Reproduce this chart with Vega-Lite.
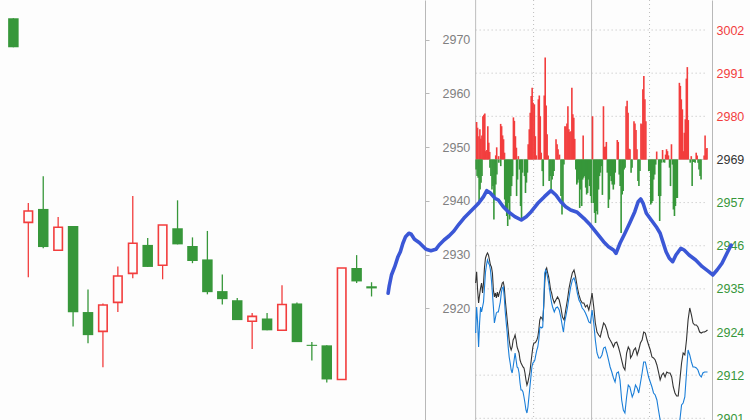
{
"$schema": "https://vega.github.io/schema/vega-lite/v6.json",
"width": 750, "height": 420, "padding": 0, "autosize": {"type": "none"},
"background": "#fdfdfd",
"config": {"view": {"stroke": null}, "axis": {"labelFont": "Liberation Sans", "labelFontSize": 12}},
"datasets": {
"candles": [
{"i":0,"o":2974.0,"h":2974.0,"l":2968.6,"c":2968.6},
{"i":1,"o":2936.0,"h":2939.6,"l":2925.8,"c":2938.1},
{"i":2,"o":2938.5,"h":2944.6,"l":2931.2,"c":2931.4},
{"i":3,"o":2930.8,"h":2937.0,"l":2930.8,"c":2935.1},
{"i":4,"o":2935.3,"h":2935.3,"l":2916.6,"c":2919.25},
{"i":5,"o":2919.3,"h":2923.5,"l":2913.5,"c":2915.0},
{"i":6,"o":2915.7,"h":2920.9,"l":2909.0,"c":2920.6},
{"i":7,"o":2921.1,"h":2927.8,"l":2919.3,"c":2926.0},
{"i":8,"o":2926.5,"h":2940.9,"l":2925.6,"c":2932.1},
{"i":9,"o":2931.8,"h":2933.1,"l":2927.7,"c":2927.7},
{"i":10,"o":2928.0,"h":2935.5,"l":2925.4,"c":2935.5},
{"i":11,"o":2934.9,"h":2940.1,"l":2931.9,"c":2931.9},
{"i":12,"o":2931.6,"h":2933.2,"l":2928.4,"c":2928.8},
{"i":13,"o":2929.1,"h":2934.4,"l":2922.6,"c":2923.0},
{"i":14,"o":2923.2,"h":2926.3,"l":2920.7,"c":2921.7},
{"i":15,"o":2921.5,"h":2921.9,"l":2917.8,"c":2917.8},
{"i":16,"o":2917.6,"h":2919.1,"l":2912.4,"c":2918.5},
{"i":17,"o":2918.1,"h":2919.1,"l":2915.9,"c":2915.9},
{"i":18,"o":2915.9,"h":2924.3,"l":2915.9,"c":2920.7},
{"i":19,"o":2920.9,"h":2921.1,"l":2913.7,"c":2913.7},
{"i":20,"o":2913.2,"h":2913.7,"l":2910.3,"c":2913.0},
{"i":21,"o":2913.1,"h":2913.1,"l":2906.2,"c":2906.75},
{"i":22,"o":2906.75,"h":2927.5,"l":2906.75,"c":2927.5},
{"i":23,"o":2927.5,"h":2929.9,"l":2924.7,"c":2925.0},
{"i":24,"o":2924.1,"h":2924.85,"l":2922.2,"c":2923.7}
],
"bars": [
{"t":1.0,"v":2978.4},{"t":2.0,"v":2976.9},{"t":3.4,"v":2974.7},{"t":4.4,"v":2976.5},{"t":5.4,"v":2974.0},{"t":6.5,"v":2974.9},{"t":7.5,"v":2979.9},{"t":8.5,"v":2980.3},{"t":9.5,"v":2980.6},{"t":10.5,"v":2970.8},{"t":11.6,"v":2971.1},{"t":12.6,"v":2977.3},{"t":13.6,"v":2973.0},{"t":14.6,"v":2970.6},{"t":20.8,"v":2969.7},{"t":21.8,"v":2971.8},{"t":23.8,"v":2969.5},{"t":25.9,"v":2977.9},{"t":26.9,"v":2977.3},{"t":27.9,"v":2974.9},{"t":28.9,"v":2973.9},{"t":29.9,"v":2970.4},{"t":39.1,"v":2979.6},{"t":40.1,"v":2978.7},{"t":41.2,"v":2974.7},{"t":42.2,"v":2971.7},{"t":44.2,"v":2969.5},{"t":54.4,"v":2972.6},{"t":55.5,"v":2976.5},{"t":56.5,"v":2980.8},{"t":57.5,"v":2985.2},{"t":58.5,"v":2987.3},{"t":59.5,"v":2983.4},{"t":60.8,"v":2983.0},{"t":61.8,"v":2974.7},{"t":62.8,"v":2969.7},{"t":64.9,"v":2984.3},{"t":65.9,"v":2985.3},{"t":66.9,"v":2979.9},{"t":67.9,"v":2970.4},{"t":71.0,"v":2985.3},{"t":72.0,"v":2995.2},{"t":73.0,"v":2982.7},{"t":74.0,"v":2975.2},{"t":75.1,"v":2969.7},{"t":83.2,"v":2973.9},{"t":84.3,"v":2972.6},{"t":85.3,"v":2971.3},{"t":86.8,"v":2969.9},{"t":92.4,"v":2977.3},{"t":93.4,"v":2977.2},{"t":94.5,"v":2978.0},{"t":95.5,"v":2982.5},{"t":96.5,"v":2976.5},{"t":97.5,"v":2975.8},{"t":98.6,"v":2976.0},{"t":99.6,"v":2987.3},{"t":100.6,"v":2980.4},{"t":101.6,"v":2979.5},{"t":102.6,"v":2974.0},{"t":111.3,"v":2974.9},{"t":121.0,"v":2979.9},{"t":132.3,"v":2982.5},{"t":133.3,"v":2971.9},{"t":134.3,"v":2972.0},{"t":135.3,"v":2973.2},{"t":146.6,"v":2973.7},{"t":147.6,"v":2973.2},{"t":155.7,"v":2982.5},{"t":156.8,"v":2983.9},{"t":157.8,"v":2980.8},{"t":158.8,"v":2971.4},{"t":159.8,"v":2971.3},{"t":163.9,"v":2978.6},{"t":164.9,"v":2978.0},{"t":166.0,"v":2976.3},{"t":167.0,"v":2971.3},{"t":171.1,"v":2978.0},{"t":172.1,"v":2977.8},{"t":173.1,"v":2986.9},{"t":174.1,"v":2990.4},{"t":175.2,"v":2984.3},{"t":176.2,"v":2978.6},{"t":187.4,"v":2970.7},{"t":193.5,"v":2971.1},{"t":196.6,"v":2969.9},{"t":197.6,"v":2971.3},{"t":198.6,"v":2970.8},{"t":199.6,"v":2969.7},{"t":202.7,"v":2972.6},{"t":210.9,"v":2988.6},{"t":211.9,"v":2987.8},{"t":212.9,"v":2984.3},{"t":214.0,"v":2981.7},{"t":215.0,"v":2970.8},{"t":216.0,"v":2975.6},{"t":217.0,"v":2979.1},{"t":218.1,"v":2989.7},{"t":219.1,"v":2992.7},{"t":220.1,"v":2978.9},{"t":223.2,"v":2969.5},{"t":228.3,"v":2970.4},{"t":229.3,"v":2969.7},{"t":236.5,"v":2969.7},{"t":237.5,"v":2974.9},{"t":238.5,"v":2971.4},{"t":239.5,"v":2971.6},
{"t":0.5,"v":2966.0},{"t":1.5,"v":2964.3},{"t":2.6,"v":2963.9},{"t":3.6,"v":2957.8},{"t":4.6,"v":2960.8},{"t":5.6,"v":2962.6},{"t":6.6,"v":2964.3},{"t":14.8,"v":2966.5},{"t":15.8,"v":2964.3},{"t":16.9,"v":2960.8},{"t":17.9,"v":2961.7},{"t":18.9,"v":2953.0},{"t":19.9,"v":2959.1},{"t":20.9,"v":2962.1},{"t":22.0,"v":2964.7},{"t":24.0,"v":2967.8},{"t":26.0,"v":2966.9},{"t":30.1,"v":2958.2},{"t":31.1,"v":2955.6},{"t":32.2,"v":2953.9},{"t":33.2,"v":2951.3},{"t":34.2,"v":2957.3},{"t":35.2,"v":2953.0},{"t":36.3,"v":2959.1},{"t":37.3,"v":2961.7},{"t":38.3,"v":2964.3},{"t":42.4,"v":2959.1},{"t":43.4,"v":2963.4},{"t":45.4,"v":2966.0},{"t":46.5,"v":2956.5},{"t":47.5,"v":2953.0},{"t":48.5,"v":2965.2},{"t":50.6,"v":2964.3},{"t":51.6,"v":2959.9},{"t":52.6,"v":2962.6},{"t":53.6,"v":2965.2},{"t":68.9,"v":2965.6},{"t":70.0,"v":2961.7},{"t":76.1,"v":2963.0},{"t":77.1,"v":2964.3},{"t":78.1,"v":2960.8},{"t":79.2,"v":2963.4},{"t":80.2,"v":2964.3},{"t":81.2,"v":2965.6},{"t":88.3,"v":2959.1},{"t":89.4,"v":2954.3},{"t":90.4,"v":2956.5},{"t":91.4,"v":2967.3},{"t":103.7,"v":2966.0},{"t":104.7,"v":2962.1},{"t":105.7,"v":2962.6},{"t":106.7,"v":2963.4},{"t":107.7,"v":2956.0},{"t":108.8,"v":2960.8},{"t":109.8,"v":2956.5},{"t":110.8,"v":2963.4},{"t":111.8,"v":2963.9},{"t":112.9,"v":2964.3},{"t":113.9,"v":2961.3},{"t":114.9,"v":2959.5},{"t":115.9,"v":2959.9},{"t":116.9,"v":2963.4},{"t":117.9,"v":2961.7},{"t":119.0,"v":2959.1},{"t":120.0,"v":2957.3},{"t":122.0,"v":2957.3},{"t":123.1,"v":2954.7},{"t":124.1,"v":2952.1},{"t":125.1,"v":2955.2},{"t":126.1,"v":2954.3},{"t":127.2,"v":2960.8},{"t":128.2,"v":2964.3},{"t":129.2,"v":2965.2},{"t":130.2,"v":2966.9},{"t":131.2,"v":2959.4},{"t":136.3,"v":2965.2},{"t":137.4,"v":2956.0},{"t":138.4,"v":2958.2},{"t":139.4,"v":2964.3},{"t":140.4,"v":2963.0},{"t":141.4,"v":2962.1},{"t":142.5,"v":2960.8},{"t":143.5,"v":2962.1},{"t":144.5,"v":2965.2},{"t":148.6,"v":2964.7},{"t":149.6,"v":2961.7},{"t":150.6,"v":2949.5},{"t":151.7,"v":2959.5},{"t":152.7,"v":2960.4},{"t":153.7,"v":2966.0},{"t":154.7,"v":2966.5},{"t":160.9,"v":2965.2},{"t":161.9,"v":2966.5},{"t":168.0,"v":2963.0},{"t":169.0,"v":2961.7},{"t":170.1,"v":2965.6},{"t":179.2,"v":2965.6},{"t":180.3,"v":2965.6},{"t":181.3,"v":2956.9},{"t":182.3,"v":2957.3},{"t":183.3,"v":2957.8},{"t":184.3,"v":2963.4},{"t":185.4,"v":2964.7},{"t":186.4,"v":2967.3},{"t":189.5,"v":2959.1},{"t":190.5,"v":2952.6},{"t":191.5,"v":2959.1},{"t":192.5,"v":2967.8},{"t":194.6,"v":2967.9},{"t":195.6,"v":2967.8},{"t":200.7,"v":2966.5},{"t":201.7,"v":2961.7},{"t":203.7,"v":2967.3},{"t":204.7,"v":2955.6},{"t":205.8,"v":2953.9},{"t":206.8,"v":2956.5},{"t":207.8,"v":2958.6},{"t":208.8,"v":2958.6},{"t":222.1,"v":2967.8},{"t":224.1,"v":2961.7},{"t":225.1,"v":2968.0},{"t":226.2,"v":2968.0},{"t":227.2,"v":2967.8},{"t":230.2,"v":2967.8},{"t":231.2,"v":2966.0},{"t":232.3,"v":2964.3},{"t":233.3,"v":2963.4}
],
"price": [
{"t":0,"v":2936.45},{"t":1.02,"v":2939.4},{"t":2.04,"v":2934.63},{"t":3.06,"v":2931.24},{"t":4.09,"v":2933.33},{"t":5.11,"v":2935.15},{"t":6.13,"v":2936.45},{"t":7.15,"v":2933.85},{"t":8.17,"v":2936.45},{"t":9.19,"v":2940.62},{"t":10.21,"v":2942.97},{"t":11.23,"v":2943.75},{"t":12.26,"v":2944.27},{"t":13.28,"v":2943.75},{"t":14.3,"v":2942.45},{"t":15.32,"v":2941.14},{"t":16.34,"v":2940.62},{"t":17.36,"v":2939.06},{"t":18.38,"v":2934.63},{"t":19.4,"v":2932.81},{"t":20.43,"v":2933.85},{"t":21.45,"v":2932.55},{"t":22.47,"v":2934.11},{"t":23.49,"v":2932.81},{"t":24.51,"v":2933.85},{"t":25.53,"v":2934.63},{"t":26.55,"v":2935.41},{"t":27.58,"v":2936.45},{"t":28.6,"v":2936.71},{"t":29.62,"v":2935.41},{"t":30.64,"v":2932.02},{"t":31.66,"v":2929.42},{"t":32.68,"v":2926.81},{"t":33.7,"v":2924.21},{"t":34.72,"v":2921.6},{"t":35.75,"v":2919.78},{"t":36.77,"v":2918.99},{"t":37.79,"v":2919.78},{"t":38.81,"v":2921.6},{"t":39.83,"v":2922.12},{"t":40.85,"v":2922.91},{"t":41.87,"v":2921.6},{"t":42.89,"v":2919.78},{"t":43.92,"v":2918.99},{"t":44.94,"v":2918.22},{"t":45.96,"v":2916.39},{"t":46.98,"v":2915.61},{"t":48.0,"v":2915.09},{"t":49.02,"v":2914.57},{"t":50.04,"v":2914.31},{"t":51.07,"v":2913.01},{"t":52.09,"v":2911.18},{"t":53.11,"v":2909.88},{"t":54.13,"v":2910.66},{"t":55.15,"v":2911.96},{"t":56.17,"v":2913.27},{"t":57.19,"v":2915.61},{"t":58.21,"v":2917.7},{"t":59.24,"v":2919.78},{"t":60.26,"v":2920.82},{"t":61.28,"v":2920.82},{"t":62.3,"v":2921.08},{"t":63.32,"v":2921.6},{"t":64.34,"v":2922.39},{"t":65.36,"v":2924.21},{"t":66.38,"v":2926.81},{"t":67.41,"v":2927.6},{"t":68.43,"v":2927.33},{"t":69.45,"v":2926.81},{"t":70.47,"v":2930.2},{"t":71.49,"v":2936.45},{"t":72.51,"v":2939.84},{"t":73.53,"v":2940.36},{"t":74.55,"v":2939.06},{"t":75.58,"v":2938.02},{"t":76.6,"v":2936.45},{"t":77.62,"v":2934.63},{"t":78.64,"v":2933.85},{"t":79.66,"v":2932.55},{"t":81.4,"v":2931.24},{"t":83.03,"v":2932.02},{"t":84.77,"v":2932.81},{"t":86.5,"v":2932.02},{"t":88.14,"v":2930.2},{"t":89.87,"v":2927.6},{"t":91.61,"v":2926.81},{"t":93.24,"v":2929.42},{"t":94.98,"v":2932.02},{"t":96.72,"v":2935.15},{"t":98.35,"v":2937.23},{"t":100.09,"v":2939.06},{"t":101.82,"v":2939.84},{"t":103.46,"v":2938.02},{"t":105.19,"v":2935.41},{"t":106.93,"v":2933.33},{"t":108.56,"v":2932.02},{"t":110.3,"v":2931.24},{"t":112.04,"v":2931.24},{"t":113.67,"v":2930.2},{"t":115.41,"v":2930.72},{"t":117.14,"v":2929.42},{"t":118.78,"v":2931.24},{"t":120.51,"v":2933.85},{"t":122.25,"v":2930.2},{"t":123.88,"v":2926.03},{"t":125.62,"v":2923.68},{"t":127.36,"v":2922.91},{"t":128.99,"v":2922.39},{"t":130.73,"v":2924.21},{"t":132.46,"v":2926.03},{"t":134.1,"v":2925.51},{"t":135.83,"v":2924.21},{"t":137.57,"v":2922.39},{"t":139.2,"v":2921.6},{"t":140.94,"v":2920.82},{"t":142.68,"v":2919.78},{"t":144.31,"v":2920.82},{"t":146.05,"v":2921.08},{"t":147.78,"v":2919.78},{"t":149.42,"v":2918.22},{"t":151.15,"v":2916.39},{"t":152.89,"v":2914.57},{"t":154.52,"v":2913.79},{"t":156.26,"v":2918.22},{"t":157.99,"v":2919.78},{"t":159.63,"v":2918.99},{"t":160.34,"v":2916.91},{"t":162.08,"v":2917.7},{"t":163.71,"v":2918.99},{"t":165.45,"v":2919.52},{"t":167.19,"v":2917.7},{"t":168.82,"v":2918.99},{"t":170.56,"v":2920.82},{"t":172.29,"v":2921.6},{"t":173.93,"v":2923.68},{"t":175.66,"v":2923.42},{"t":177.4,"v":2921.6},{"t":179.03,"v":2920.3},{"t":180.77,"v":2918.99},{"t":182.51,"v":2917.17},{"t":184.14,"v":2916.91},{"t":185.88,"v":2916.39},{"t":187.61,"v":2915.09},{"t":189.25,"v":2913.27},{"t":190.98,"v":2911.18},{"t":192.72,"v":2912.48},{"t":194.35,"v":2913.01},{"t":196.09,"v":2911.96},{"t":197.83,"v":2913.27},{"t":199.46,"v":2913.01},{"t":201.2,"v":2913.01},{"t":202.93,"v":2911.96},{"t":204.57,"v":2909.36},{"t":206.3,"v":2907.8},{"t":208.04,"v":2907.01},{"t":209.67,"v":2907.01},{"t":211.41,"v":2911.18},{"t":213.15,"v":2915.61},{"t":214.78,"v":2918.22},{"t":216.52,"v":2917.7},{"t":218.25,"v":2921.6},{"t":219.89,"v":2926.81},{"t":221.62,"v":2929.94},{"t":223.36,"v":2928.12},{"t":224.99,"v":2926.03},{"t":226.73,"v":2925.51},{"t":228.47,"v":2925.51},{"t":230.1,"v":2924.99},{"t":231.84,"v":2923.68},{"t":233.57,"v":2923.42},{"t":235.21,"v":2923.68},{"t":236.94,"v":2923.68},{"t":238.68,"v":2923.95},{"t":240,"v":2924.21}
],
"avg": [
{"t":0,"v":2923.42},{"t":1.02,"v":2930.2},{"t":2.04,"v":2926.29},{"t":3.06,"v":2919.78},{"t":4.09,"v":2926.03},{"t":5.11,"v":2930.2},{"t":6.13,"v":2928.9},{"t":7.15,"v":2930.2},{"t":8.17,"v":2931.5},{"t":9.19,"v":2935.41},{"t":10.21,"v":2939.32},{"t":11.23,"v":2941.14},{"t":12.26,"v":2942.45},{"t":13.28,"v":2941.66},{"t":14.3,"v":2941.14},{"t":15.32,"v":2939.84},{"t":16.34,"v":2937.23},{"t":17.36,"v":2933.85},{"t":18.38,"v":2930.2},{"t":19.4,"v":2926.03},{"t":20.43,"v":2927.33},{"t":21.45,"v":2928.64},{"t":22.47,"v":2928.9},{"t":23.49,"v":2928.9},{"t":24.51,"v":2930.2},{"t":25.53,"v":2931.5},{"t":26.55,"v":2933.85},{"t":27.58,"v":2935.15},{"t":28.6,"v":2935.41},{"t":29.62,"v":2932.81},{"t":30.64,"v":2928.9},{"t":31.66,"v":2926.03},{"t":32.68,"v":2923.42},{"t":33.7,"v":2919.78},{"t":34.72,"v":2917.17},{"t":35.75,"v":2915.61},{"t":36.77,"v":2913.79},{"t":37.79,"v":2913.01},{"t":38.81,"v":2914.57},{"t":39.83,"v":2916.39},{"t":40.85,"v":2918.22},{"t":41.87,"v":2916.39},{"t":42.89,"v":2914.57},{"t":43.92,"v":2914.31},{"t":44.94,"v":2913.01},{"t":45.96,"v":2910.4},{"t":46.98,"v":2908.58},{"t":48.0,"v":2908.58},{"t":49.02,"v":2908.06},{"t":50.04,"v":2906.75},{"t":51.07,"v":2905.19},{"t":52.09,"v":2903.37},{"t":53.11,"v":2902.59},{"t":54.13,"v":2904.15},{"t":55.15,"v":2906.75},{"t":56.17,"v":2909.36},{"t":57.19,"v":2911.96},{"t":58.21,"v":2914.57},{"t":59.24,"v":2915.61},{"t":60.26,"v":2915.87},{"t":61.28,"v":2916.39},{"t":62.3,"v":2917.7},{"t":63.32,"v":2918.99},{"t":64.34,"v":2919.78},{"t":65.36,"v":2921.6},{"t":66.38,"v":2924.73},{"t":67.41,"v":2924.99},{"t":68.43,"v":2924.73},{"t":69.45,"v":2924.99},{"t":70.47,"v":2931.24},{"t":71.49,"v":2939.06},{"t":72.51,"v":2939.84},{"t":73.53,"v":2939.06},{"t":74.55,"v":2937.76},{"t":75.58,"v":2936.45},{"t":76.6,"v":2934.63},{"t":77.62,"v":2932.81},{"t":78.64,"v":2931.24},{"t":79.66,"v":2930.2},{"t":81.4,"v":2928.9},{"t":83.03,"v":2929.94},{"t":84.77,"v":2930.2},{"t":86.5,"v":2929.42},{"t":88.14,"v":2927.6},{"t":89.87,"v":2924.99},{"t":90.89,"v":2923.68},{"t":91.91,"v":2926.03},{"t":93.24,"v":2927.6},{"t":94.98,"v":2929.94},{"t":96.72,"v":2932.81},{"t":98.35,"v":2935.41},{"t":100.09,"v":2937.23},{"t":101.82,"v":2937.76},{"t":103.46,"v":2936.45},{"t":105.19,"v":2933.85},{"t":106.93,"v":2932.02},{"t":108.56,"v":2931.24},{"t":110.3,"v":2929.94},{"t":112.04,"v":2929.42},{"t":113.67,"v":2928.64},{"t":115.41,"v":2927.6},{"t":117.14,"v":2926.29},{"t":118.78,"v":2926.03},{"t":120.51,"v":2929.42},{"t":122.25,"v":2926.03},{"t":123.88,"v":2921.6},{"t":125.62,"v":2918.22},{"t":127.36,"v":2916.91},{"t":128.99,"v":2916.91},{"t":130.73,"v":2917.7},{"t":132.46,"v":2919.52},{"t":134.1,"v":2919.78},{"t":135.83,"v":2918.22},{"t":137.57,"v":2916.39},{"t":139.2,"v":2914.57},{"t":140.94,"v":2913.27},{"t":142.68,"v":2911.7},{"t":144.31,"v":2910.66},{"t":146.05,"v":2913.01},{"t":147.78,"v":2913.27},{"t":149.42,"v":2911.18},{"t":151.15,"v":2905.97},{"t":152.89,"v":2903.37},{"t":154.52,"v":2902.59},{"t":156.26,"v":2906.75},{"t":157.99,"v":2909.88},{"t":159.63,"v":2909.36},{"t":160.34,"v":2908.58},{"t":162.08,"v":2906.75},{"t":163.71,"v":2907.8},{"t":165.45,"v":2909.88},{"t":167.19,"v":2909.1},{"t":168.82,"v":2907.8},{"t":170.56,"v":2910.4},{"t":172.29,"v":2913.01},{"t":173.93,"v":2915.87},{"t":175.66,"v":2915.87},{"t":177.4,"v":2913.79},{"t":179.03,"v":2911.96},{"t":180.77,"v":2910.66},{"t":182.51,"v":2909.36},{"t":184.14,"v":2907.8},{"t":185.88,"v":2907.27},{"t":187.61,"v":2905.97},{"t":189.25,"v":2903.37},{"t":190.98,"v":2900.76},{"t":192.72,"v":2898.94},{"t":194.35,"v":2897.63},{"t":197.11,"v":2896.59},{"t":201.2,"v":2896.07},{"t":205.28,"v":2897.11},{"t":208.35,"v":2898.68},{"t":211.41,"v":2900.76},{"t":213.15,"v":2904.67},{"t":214.78,"v":2905.19},{"t":216.52,"v":2906.75},{"t":218.25,"v":2913.01},{"t":219.89,"v":2918.99},{"t":221.62,"v":2917.7},{"t":223.36,"v":2915.87},{"t":224.99,"v":2914.57},{"t":226.73,"v":2914.57},{"t":228.47,"v":2914.31},{"t":230.1,"v":2913.79},{"t":231.84,"v":2912.48},{"t":233.57,"v":2911.96},{"t":235.21,"v":2913.01},{"t":236.94,"v":2913.27},{"t":238.68,"v":2913.27},{"t":240,"v":2913.27}
],
"thick": [
{"t":-90.59,"v":2933.77},{"t":-89.57,"v":2935.49},{"t":-87.12,"v":2938.54},{"t":-83.75,"v":2940.7},{"t":-80.38,"v":2943.31},{"t":-77.92,"v":2944.61},{"t":-75.27,"v":2946.8},{"t":-72.51,"v":2948.52},{"t":-69.14,"v":2949.41},{"t":-66.69,"v":2949.15},{"t":-63.32,"v":2947.84},{"t":-58.21,"v":2946.95},{"t":-54.84,"v":2946.09},{"t":-51.37,"v":2945.23},{"t":-46.27,"v":2944.87},{"t":-41.16,"v":2945.23},{"t":-37.79,"v":2946.35},{"t":-32.68,"v":2947.66},{"t":-27.58,"v":2948.7},{"t":-22.47,"v":2950.0},{"t":-17.36,"v":2951.75},{"t":-12.26,"v":2953.31},{"t":-7.15,"v":2954.61},{"t":-2.04,"v":2955.91},{"t":3.06,"v":2957.22},{"t":8.17,"v":2958.94},{"t":11.54,"v":2960.5},{"t":15.01,"v":2959.98},{"t":20.12,"v":2958.52},{"t":23.49,"v":2958.08},{"t":28.6,"v":2956.33},{"t":33.7,"v":2955.03},{"t":40.54,"v":2953.73},{"t":47.29,"v":2952.86},{"t":52.39,"v":2953.73},{"t":57.5,"v":2955.03},{"t":64.34,"v":2957.22},{"t":71.19,"v":2958.94},{"t":77.93,"v":2960.5},{"t":83.03,"v":2959.38},{"t":88.14,"v":2957.63},{"t":93.24,"v":2956.33},{"t":98.35,"v":2955.47},{"t":105.19,"v":2954.87},{"t":112.04,"v":2953.31},{"t":118.78,"v":2951.56},{"t":125.62,"v":2949.41},{"t":132.46,"v":2947.22},{"t":137.57,"v":2945.92},{"t":142.68,"v":2945.05},{"t":145.33,"v":2944.19},{"t":149.42,"v":2946.8},{"t":154.52,"v":2949.41},{"t":159.63,"v":2952.17},{"t":164.74,"v":2955.03},{"t":168.21,"v":2957.63},{"t":170.86,"v":2958.34},{"t":173.32,"v":2957.22},{"t":176.68,"v":2954.61},{"t":181.79,"v":2952.86},{"t":186.9,"v":2951.12},{"t":190.98,"v":2949.41},{"t":193.74,"v":2947.22},{"t":197.11,"v":2944.61},{"t":200.48,"v":2942.89},{"t":203.95,"v":2942.01},{"t":207.32,"v":2943.76},{"t":212.43,"v":2945.5},{"t":215.8,"v":2945.05},{"t":220.91,"v":2943.76},{"t":227.75,"v":2942.45},{"t":234.59,"v":2940.7},{"t":241.33,"v":2939.4},{"t":245.42,"v":2938.54},{"t":249.91,"v":2939.84},{"t":255.02,"v":2941.59},{"t":260.13,"v":2944.19},{"t":264.52,"v":2946.35}
],
"grid": [{"v":2901.2},{"v":2912.44},{"v":2923.68},{"v":2934.92},{"v":2946.16},{"v":2957.4},{"v":2979.88},{"v":2991.12},{"v":3002.36}],
"base": [{"v":2968.64}],
"vsolid": [{"t":0},{"t":120}],
"vdot": [{"t":60},{"t":180}]
},
"layer": [
{
"layer": [
{"data": {"name": "candles"}, "mark": {"type": "rule", "strokeWidth": 1.3},
 "encoding": {
  "x": {"field": "i", "type": "quantitative", "scale": {"domain": [-0.562, 49.025], "nice": false, "zero": false}, "axis": null},
  "y": {"field": "l", "type": "quantitative", "scale": {"domain": [2899.2, 2977.4], "nice": false, "zero": false},
        "axis": {"orient": "right", "offset": -325, "values": [2920, 2930, 2940, 2950, 2960, 2970], "format": "d", "title": null, "grid": false, "domainColor": "#b8b8b8", "tickColor": "#b8b8b8", "tickSize": 4, "labelColor": "#808080", "labelPadding": 13, "labelFont": "Liberation Sans", "labelFontSize": 12.5, "labelOverlap": false}},
  "y2": {"field": "h"},
  "color": {"condition": {"test": "datum.c > datum.o", "value": "#f23d3d"}, "value": "#37973a"}
 }},
{"data": {"name": "candles"}, "transform": [{"filter": "datum.c <= datum.o"}],
 "mark": {"type": "bar", "size": 10.5, "color": "#37973a"},
 "encoding": {
  "x": {"field": "i", "type": "quantitative", "scale": {"domain": [-0.562, 49.025], "nice": false, "zero": false}, "axis": null},
  "y": {"field": "o", "type": "quantitative", "scale": {"domain": [2899.2, 2977.4], "nice": false, "zero": false},
        "axis": {"orient": "right", "offset": -325, "values": [2920, 2930, 2940, 2950, 2960, 2970], "format": "d", "title": null, "grid": false, "domainColor": "#b8b8b8", "tickColor": "#b8b8b8", "tickSize": 4, "labelColor": "#808080", "labelPadding": 13, "labelFont": "Liberation Sans", "labelFontSize": 12.5, "labelOverlap": false}},
  "y2": {"field": "c"}
 }},
{"data": {"name": "candles"}, "transform": [{"filter": "datum.c > datum.o"}],
 "mark": {"type": "bar", "size": 8.5, "fill": "#fdfdfd", "stroke": "#f23d3d", "strokeWidth": 1.6},
 "encoding": {
  "x": {"field": "i", "type": "quantitative", "scale": {"domain": [-0.562, 49.025], "nice": false, "zero": false}, "axis": null},
  "y": {"field": "o", "type": "quantitative", "scale": {"domain": [2899.2, 2977.4], "nice": false, "zero": false},
        "axis": {"orient": "right", "offset": -325, "values": [2920, 2930, 2940, 2950, 2960, 2970], "format": "d", "title": null, "grid": false, "domainColor": "#b8b8b8", "tickColor": "#b8b8b8", "tickSize": 4, "labelColor": "#808080", "labelPadding": 13, "labelFont": "Liberation Sans", "labelFontSize": 12.5, "labelOverlap": false}},
  "y2": {"field": "c"}
 }}
]
},
{
"layer": [
{"data": {"name": "vsolid"}, "mark": {"type": "rule", "color": "#bdbdbd", "strokeWidth": 1},
 "encoding": {"x": {"field": "t", "type": "quantitative", "scale": {"domain": [-487.15, 278.81], "nice": false, "zero": false}, "axis": null}}},
{"data": {"name": "vdot"}, "mark": {"type": "rule", "color": "#bdbdbd", "strokeWidth": 1, "strokeDash": [1, 3]},
 "encoding": {"x": {"field": "t", "type": "quantitative", "scale": {"domain": [-487.15, 278.81], "nice": false, "zero": false}, "axis": null}}},
{"data": {"name": "grid"}, "mark": {"type": "rule", "color": "#bdbdbd", "strokeWidth": 1, "strokeDash": [1, 3]},
 "encoding": {
  "x": {"datum": 0, "type": "quantitative", "scale": {"domain": [-487.15, 278.81], "nice": false, "zero": false}, "axis": null},
  "x2": {"datum": 240},
  "y": {"field": "v", "type": "quantitative", "scale": {"domain": [2900.76, 3010.18], "nice": false, "zero": false},
        "axis": {"orient": "right", "offset": -38, "values": [2901.2, 2912.44, 2923.68, 2934.92, 2946.16, 2957.4, 2968.64, 2979.88, 3002.36, 2991.12], "format": ".0f", "title": null, "grid": false, "ticks": false, "tickSize": 0, "domainColor": "#b8b8b8", "labelPadding": 4, "labelFont": "Liberation Sans", "labelFontSize": 12.5, "labelOverlap": false, "labelColor": {"expr": "datum.value > 2970 ? '#f23d3d' : (datum.value > 2968 ? '#333333' : '#37973a')"}}}
 }},
{"data": {"name": "base"}, "mark": {"type": "rule", "color": "#c8c8c8", "strokeWidth": 1},
 "encoding": {
  "x": {"datum": 0, "type": "quantitative", "scale": {"domain": [-487.15, 278.81], "nice": false, "zero": false}, "axis": null},
  "x2": {"datum": 240},
  "y": {"field": "v", "type": "quantitative", "scale": {"domain": [2900.76, 3010.18], "nice": false, "zero": false},
        "axis": {"orient": "right", "offset": -38, "values": [2901.2, 2912.44, 2923.68, 2934.92, 2946.16, 2957.4, 2968.64, 2979.88, 3002.36, 2991.12], "format": ".0f", "title": null, "grid": false, "ticks": false, "tickSize": 0, "domainColor": "#b8b8b8", "labelPadding": 4, "labelFont": "Liberation Sans", "labelFontSize": 12.5, "labelOverlap": false, "labelColor": {"expr": "datum.value > 2970 ? '#f23d3d' : (datum.value > 2968 ? '#333333' : '#37973a')"}}}
 }},
{"data": {"name": "bars"}, "mark": {"type": "bar", "size": 1.6},
 "encoding": {
  "x": {"field": "t", "type": "quantitative", "scale": {"domain": [-487.15, 278.81], "nice": false, "zero": false}, "axis": null},
  "y": {"field": "v", "type": "quantitative", "scale": {"domain": [2900.76, 3010.18], "nice": false, "zero": false},
        "axis": {"orient": "right", "offset": -38, "values": [2901.2, 2912.44, 2923.68, 2934.92, 2946.16, 2957.4, 2968.64, 2979.88, 3002.36, 2991.12], "format": ".0f", "title": null, "grid": false, "ticks": false, "tickSize": 0, "domainColor": "#b8b8b8", "labelPadding": 4, "labelFont": "Liberation Sans", "labelFontSize": 12.5, "labelOverlap": false, "labelColor": {"expr": "datum.value > 2970 ? '#f23d3d' : (datum.value > 2968 ? '#333333' : '#37973a')"}}},
  "y2": {"datum": 2968.64},
  "color": {"condition": {"test": "datum.v > 2968.64", "value": "#f23d3d"}, "value": "#37973a"}
 }},
{"data": {"name": "price"}, "mark": {"type": "line", "color": "#333333", "strokeWidth": 1.1},
 "encoding": {
  "x": {"field": "t", "type": "quantitative", "scale": {"domain": [-487.15, 278.81], "nice": false, "zero": false}, "axis": null},
  "y": {"field": "v", "type": "quantitative", "scale": {"domain": [2900.76, 3010.18], "nice": false, "zero": false},
        "axis": {"orient": "right", "offset": -38, "values": [2901.2, 2912.44, 2923.68, 2934.92, 2946.16, 2957.4, 2968.64, 2979.88, 3002.36, 2991.12], "format": ".0f", "title": null, "grid": false, "ticks": false, "tickSize": 0, "domainColor": "#b8b8b8", "labelPadding": 4, "labelFont": "Liberation Sans", "labelFontSize": 12.5, "labelOverlap": false, "labelColor": {"expr": "datum.value > 2970 ? '#f23d3d' : (datum.value > 2968 ? '#333333' : '#37973a')"}}}
 }},
{"data": {"name": "avg"}, "mark": {"type": "line", "color": "#1a7ed8", "strokeWidth": 1.1, "clip": true},
 "encoding": {
  "x": {"field": "t", "type": "quantitative", "scale": {"domain": [-487.15, 278.81], "nice": false, "zero": false}, "axis": null},
  "y": {"field": "v", "type": "quantitative", "scale": {"domain": [2900.76, 3010.18], "nice": false, "zero": false},
        "axis": {"orient": "right", "offset": -38, "values": [2901.2, 2912.44, 2923.68, 2934.92, 2946.16, 2957.4, 2968.64, 2979.88, 3002.36, 2991.12], "format": ".0f", "title": null, "grid": false, "ticks": false, "tickSize": 0, "domainColor": "#b8b8b8", "labelPadding": 4, "labelFont": "Liberation Sans", "labelFontSize": 12.5, "labelOverlap": false, "labelColor": {"expr": "datum.value > 2970 ? '#f23d3d' : (datum.value > 2968 ? '#333333' : '#37973a')"}}}
 }},
{"data": {"name": "thick"}, "mark": {"type": "line", "color": "#3b57d6", "strokeWidth": 3.6, "strokeCap": "round", "strokeJoin": "round"},
 "encoding": {
  "x": {"field": "t", "type": "quantitative", "scale": {"domain": [-487.15, 278.81], "nice": false, "zero": false}, "axis": null},
  "y": {"field": "v", "type": "quantitative", "scale": {"domain": [2900.76, 3010.18], "nice": false, "zero": false},
        "axis": {"orient": "right", "offset": -38, "values": [2901.2, 2912.44, 2923.68, 2934.92, 2946.16, 2957.4, 2968.64, 2979.88, 3002.36, 2991.12], "format": ".0f", "title": null, "grid": false, "ticks": false, "tickSize": 0, "domainColor": "#b8b8b8", "labelPadding": 4, "labelFont": "Liberation Sans", "labelFontSize": 12.5, "labelOverlap": false, "labelColor": {"expr": "datum.value > 2970 ? '#f23d3d' : (datum.value > 2968 ? '#333333' : '#37973a')"}}}
 }}
]
}
],
"resolve": {"scale": {"x": "independent", "y": "independent"}, "axis": {"x": "independent", "y": "independent"}}
}
